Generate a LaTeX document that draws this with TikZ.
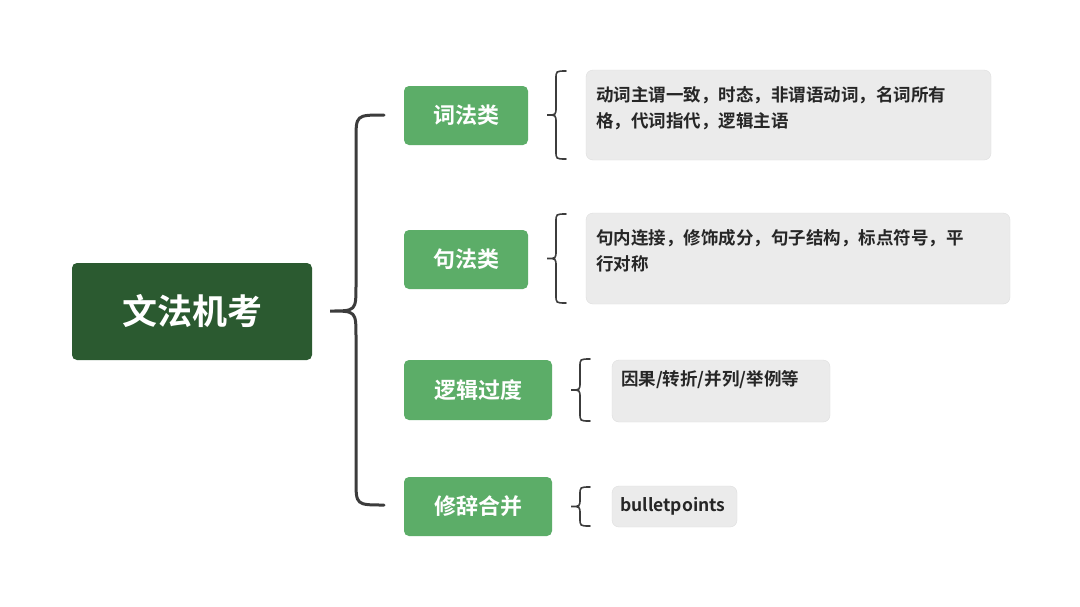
\documentclass[tikz,border=0pt]{standalone}
\usepackage{fontspec}
\newfontfamily\cjk{Noto Sans CJK SC}[BoldFont={Noto Sans CJK SC Bold}]
\begin{document}
\begin{tikzpicture}[x=1pt,y=-1pt,
  root/.style={fill={rgb,255:red,43;green,90;blue,48},rounded corners=5pt,text=white,font=\cjk\bfseries\fontsize{35}{40}\selectfont,inner sep=0pt},
  cat/.style={fill={rgb,255:red,92;green,173;blue,104},rounded corners=5pt,text=white,font=\cjk\bfseries\fontsize{22}{26}\selectfont,inner sep=0pt},
  leaf/.style={fill={rgb,255:red,235;green,235;blue,235},draw={rgb,255:red,222;green,222;blue,222},rounded corners=7pt,inner sep=0pt},
  ltext/.style={anchor=north west,text=black!85,font=\cjk\bfseries\fontsize{17.5}{26}\selectfont,align=left,inner sep=0pt},
  brc/.style={draw={rgb,255:red,60;green,60;blue,60},line width=3pt,line cap=round},
  sbrc/.style={draw={rgb,255:red,60;green,60;blue,60},line width=1.6pt,line cap=round}]
\useasboundingbox (0,0) rectangle (1080,606);
\fill[white] (0,0) rectangle (1080,606);
% root
\path[root] (72,263) rectangle (312,360);
\node[text=white,font=\cjk\bfseries\fontsize{35}{40}\selectfont] (r) at (192,311.5) {文法机考};
% categories
\foreach \n/\a/\b/\c/\d/\t in {c1/404/86/528/145/词法类, c2/404/230/528/289/句法类, c3/404/360/552/420/逻辑过度, c4/404/477/552/536/修辞合并}{
  \path[cat] (\a,\b) rectangle (\c,\d);
  \node[text=white,font=\cjk\bfseries\fontsize{22}{26}\selectfont] (\n) at ({(\a+\c)/2},{(\b+\d)/2}) {\t};
}
% leaves
\path[leaf] (586,70) rectangle (991,160);
\node[ltext] (l1) at (596,86) {动词主谓一致，时态，非谓语动词，名词所有\\格，代词指代，逻辑主语};
\path[leaf] (586,213) rectangle (1010,304);
\node[ltext] (l2) at (596,229) {句内连接，修饰成分，句子结构，标点符号，平\\行对称};
\path[leaf] (612,360) rectangle (830,422);
\node[ltext] (l3) at (621,370) {因果/转折/并列/举例等};
\path[leaf] (612,486) rectangle (737,527);
\node[ltext,anchor=west] (l4) at (620,506.5) {bulletpoints};
% big brace
\coordinate (bt) at (384,115);
\coordinate (bb) at (384,505);
\draw[brc] (bt) .. controls (356,115) .. (356,140) -- (356,285) .. controls (356,311) .. (330,311)
  .. controls (356,311) .. (356,337) -- (356,480) .. controls (356,505) .. (bb);
% small braces
\foreach \x/\t/\b in {566/71/159, 566/214/303, 590/359/421, 590/487/526}{
  \pgfmathsetmacro\m{(\t+\b)/2}
  \draw[sbrc] (\x,\t) .. controls (\x-10,\t) .. (\x-10,\t+8) -- (\x-10,\m-8) .. controls (\x-10,\m) .. (\x-19,\m)
   .. controls (\x-10,\m) .. (\x-10,\m+8) -- (\x-10,\b-8) .. controls (\x-10,\b) .. (\x,\b);
}
\end{tikzpicture}
\end{document}
